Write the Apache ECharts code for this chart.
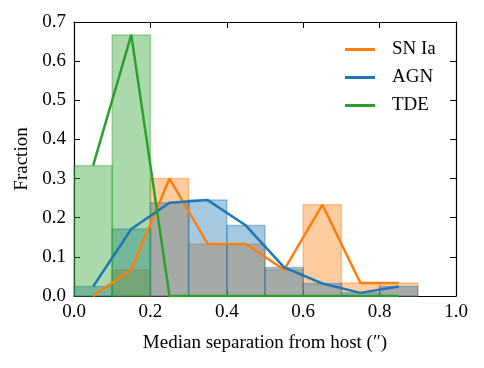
<!DOCTYPE html>
<html>
<head>
<meta charset="utf-8">
<script src="https://cdn.jsdelivr.net/npm/echarts@6/dist/echarts.min.js"></script>
<style>
  html, body { margin: 0; padding: 0; background: #fff; }
  #myChart { width: 484px; height: 368px; }
</style>
</head>
<body>
<div id="myChart"></div>
<script>
  // bin edges (arcsec) and bin centres for the lines
  var binEdges = [0.0, 0.1, 0.2, 0.3, 0.4, 0.5, 0.6, 0.7, 0.8, 0.9]
  var binCenters = [0.05, 0.15, 0.25, 0.35, 0.45, 0.55, 0.65, 0.75, 0.85]
  var snia = [0.0, 0.067, 0.3, 0.133, 0.133, 0.067, 0.233, 0.033, 0.033]
  var agn = [0.024, 0.171, 0.238, 0.245, 0.18, 0.073, 0.032, 0.008, 0.024]
  var tde = [0.333, 0.667, 0.0, 0.0, 0.0, 0.0, 0.0, 0.0, 0.0]
  var xTicks = [0, 0.2, 0.4, 0.6, 0.8, 1.0]
  var yTicks = [0, 0.1, 0.2, 0.3, 0.4, 0.5, 0.6, 0.7]

  var font = 'Liberation Serif'
  var colors = { 'SN Ia': '#ff7f0e', 'AGN': '#1f77b4', 'TDE': '#2ca02c' }

  function rgba (hex, a) {
    var n = parseInt(hex.slice(1), 16)
    return 'rgba(' + (n >> 16) + ',' + ((n >> 8) & 255) + ',' + (n & 255) + ',' + a + ')'
  }

  function histSeries (name, vals) {
    var data = []
    for (var i = 0; i < vals.length; i++) {
      if (vals[i] > 0) data.push([binEdges[i], binEdges[i + 1], vals[i]])
    }
    return {
      name: name + ' hist',
      type: 'custom',
      z: 1,
      silent: true,
      data: data,
      renderItem: function (params, api) {
        var p0 = api.coord([api.value(0), api.value(2)])
        var p1 = api.coord([api.value(1), 0])
        return {
          type: 'rect',
          shape: { x: p0[0], y: p0[1], width: p1[0] - p0[0], height: p1[1] - p0[1] },
          style: { fill: rgba(colors[name], 0.4), stroke: rgba(colors[name], 0.4), lineWidth: 1.5 }
        }
      }
    }
  }

  function lineSeries (name, vals) {
    return {
      name: name,
      type: 'line',
      z: 2,
      symbol: 'none',
      silent: true,
      data: binCenters.map(function (x, i) { return [x, vals[i]] }),
      lineStyle: { color: colors[name], width: 2.5 },
      itemStyle: { color: colors[name] }
    }
  }

  var tickStyle = { show: true, inside: true, length: 6, lineStyle: { color: '#000', width: 1 } }
  var lineStyle = { show: true, onZero: false, lineStyle: { color: '#000', width: 1.2 } }
  var fmt = function (v) { return v.toFixed(1) }

  var myChart = echarts.init(document.getElementById('myChart'))
  myChart.setOption({
    animation: false,
    grid: { left: 74, right: 28, top: 22, bottom: 72 },
    legend: {
      data: ['SN Ia', 'AGN', 'TDE'],
      orient: 'vertical',
      left: 340,
      top: 35,
      itemGap: 9,
      itemWidth: 30,
      itemHeight: 3,
      icon: 'rect',
      textStyle: { fontFamily: font, fontSize: 19, color: '#000', padding: [0, 0, 0, 12] }
    },
    xAxis: [{
      type: 'value', min: 0, max: 1, interval: 0.2,
      axisLine: lineStyle, axisTick: tickStyle, splitLine: { show: false },
      axisLabel: { fontFamily: font, fontSize: 19, color: '#000', margin: 7, formatter: fmt },
      name: 'Median separation from host (\u2033)',
      nameLocation: 'middle', nameGap: 38,
      nameTextStyle: { fontFamily: font, fontSize: 19, color: '#000' }
    }, {
      type: 'value', position: 'top', min: 0, max: 1, interval: 0.2,
      axisLine: lineStyle, axisTick: tickStyle, axisLabel: { show: false }, splitLine: { show: false }
    }],
    yAxis: [{
      type: 'value', min: 0, max: 0.7, interval: 0.1,
      axisLine: lineStyle, axisTick: tickStyle, splitLine: { show: false },
      axisLabel: { fontFamily: font, fontSize: 19, color: '#000', margin: 8, formatter: fmt },
      name: 'Fraction', nameLocation: 'middle', nameGap: 34,
      nameTextStyle: { fontFamily: font, fontSize: 19, color: '#000' }
    }, {
      type: 'value', position: 'right', min: 0, max: 0.7, interval: 0.1,
      axisLine: lineStyle, axisTick: tickStyle, axisLabel: { show: false }, splitLine: { show: false }
    }],
    series: [
      histSeries('SN Ia', snia),
      histSeries('AGN', agn),
      histSeries('TDE', tde),
      lineSeries('SN Ia', snia),
      lineSeries('AGN', agn),
      lineSeries('TDE', tde)
    ]
  })
</script>
</body>
</html>
